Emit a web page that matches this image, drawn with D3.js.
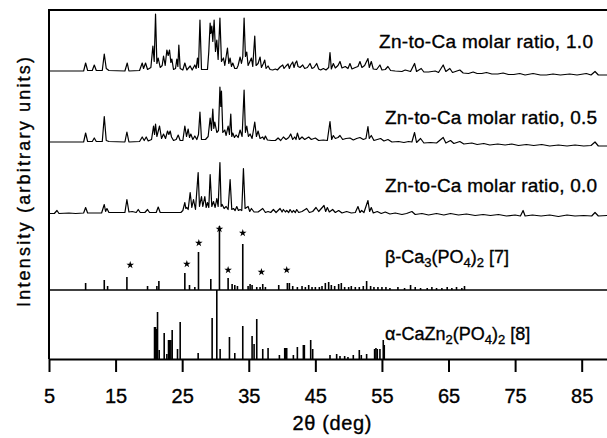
<!DOCTYPE html>
<html>
<head>
<meta charset="utf-8">
<script src="https://cdn.jsdelivr.net/npm/d3@7"></script>
<style>
body { margin: 0; background: #fff; }
text { font-family: "Liberation Sans", Arial, sans-serif; fill: #000; stroke: #000; stroke-width: 0.35px; }
</style>
</head>
<body>
<div id="xrd-chart"></div>
<script>
// x ticks (2theta, deg)
var xTicks = [5, 15, 25, 35, 45, 55, 65, 75, 85];

// stacking offsets of each pattern (intensity units)
var offsetAlpha = 0, offsetBeta = 69, offset00 = 142.5, offset05 = 212.5, offset10 = 283.5;

// measured patterns [2theta, intensity]
var ratio10 = [[5,4.5],[10.2,4.5],[10.5,12.5],[10.8,5],[11.5,5],[11.8,10.5],[12.1,5],[13.0,5],[13.3,21.5],[13.6,7],[14.0,5],[16.4,4.5],[16.75,12.5],[17.0,4.5],[18.6,5],[19.0,12.5],[19.2,7],[19.5,12.5],[19.8,6],[20.3,8],[20.6,29.5],[20.8,14],[21.0,61.5],[21.2,12],[21.4,17.5],[21.7,8],[22.0,10],[22.2,19.5],[22.45,10],[22.7,25.5],[22.9,20],[23.1,25.5],[23.3,13],[23.45,16.5],[23.7,6],[24.0,7],[24.2,16.5],[24.35,9],[24.5,30.5],[24.7,7],[25.1,5.5],[25.4,12.5],[25.7,5.5],[26.2,9.5],[26.5,5.5],[26.9,10.5],[27.1,7],[27.3,17.5],[27.45,8],[27.67,55.5],[27.9,6],[28.8,6],[29.0,24],[29.2,52.5],[29.3,42],[29.45,49.5],[29.6,34],[29.8,55.5],[30.0,24],[30.2,35.5],[30.4,16],[30.67,57.5],[30.9,14],[31.2,17.5],[31.4,10],[31.8,27.5],[32.0,12],[32.2,17.5],[32.4,9],[32.6,12.5],[32.9,7],[33.2,7],[33.4,10],[33.7,18.5],[33.9,12],[34.1,18.5],[34.3,57.5],[34.5,19],[34.7,23.5],[34.9,10],[35.1,13],[35.4,17.5],[35.6,9],[35.9,39.5],[36.1,10],[36.4,12],[36.7,18.5],[36.9,8],[37.2,12],[37.4,15.5],[37.6,7],[37.9,9.5],[38.2,6],[38.6,5.5],[39.0,6.5],[39.3,5.5],[39.7,8.5],[40.1,10.5],[40.3,7],[40.6,9.5],[40.9,11.5],[41.1,7],[41.3,10.5],[41.6,13.5],[41.8,8],[42.0,12.5],[42.2,14.5],[42.4,9],[42.7,8],[43.1,10.5],[43.4,7],[43.8,8],[44.2,12],[44.5,7],[44.8,8],[45.2,12],[45.5,6.5],[45.8,5.5],[46.2,7],[46.6,5.5],[47.0,8],[47.2,23],[47.4,6.5],[47.7,12],[48.0,7.5],[48.4,10],[48.7,14],[49.0,7.5],[49.5,9],[49.9,7],[50.2,12],[50.5,6.5],[51.0,8],[51.4,9],[51.7,14],[52.0,8],[52.4,10],[52.9,17],[53.1,8],[53.4,14],[53.7,6.5],[54.2,6],[54.7,10.5],[55.0,5.5],[55.5,6],[55.9,9],[56.3,5],[57,4.5],[58,4],[58.5,5.5],[59.3,4],[59.9,12],[60.2,4],[60.9,7],[61.3,3.5],[62,3.5],[63,4.5],[63.5,3],[64.2,10.5],[64.6,4],[65.2,7],[65.6,3],[66.7,5.5],[67.2,2.5],[68.0,2],[68.7,3.5],[69.3,2],[70.0,2],[70.7,3],[71.5,1.5],[72.4,1.5],[73.2,2.5],[74.0,1],[74.8,1],[75.7,2],[76.5,0.5],[77.7,2],[78.8,0.5],[79.7,0.5],[80.7,1.5],[81.8,0.5],[83.2,1.5],[84.3,0.5],[85.7,2],[86.4,0.5],[87.0,4],[87.5,0.5],[88.8,0.5]];

var ratio05 = [[5,4.5],[10.2,4.5],[10.5,13.5],[10.8,5],[11.5,5],[11.8,8.5],[12.1,5],[13.0,5],[13.3,30],[13.6,6],[14.0,5],[16.4,4.5],[16.7,14.5],[17.0,4.5],[18.6,5],[19.0,9.5],[19.3,6],[19.6,9.5],[19.9,5.5],[20.4,7],[20.7,20.5],[20.85,12],[21.0,22.5],[21.2,10],[21.6,20.5],[21.9,8],[22.2,12.5],[22.5,8],[22.8,15.5],[23.0,12],[23.2,15.5],[23.4,9.5],[23.7,6],[24.1,7],[24.4,11.5],[24.7,6],[25.1,6],[25.4,20.5],[25.65,10],[25.9,17.5],[26.1,9],[26.3,12.5],[26.6,7],[26.9,10.5],[27.2,7],[27.45,12],[27.67,34.5],[27.9,7],[28.5,7],[28.9,10],[29.2,28.5],[29.4,16],[29.6,37.5],[29.75,18],[29.9,24.5],[30.2,14],[30.45,16],[30.67,59.5],[30.8,40],[30.9,55.5],[31.1,14],[31.4,16.5],[31.6,11],[31.9,20.5],[32.1,12],[32.3,32.5],[32.45,10],[32.6,13.5],[32.85,9],[33.1,11.5],[33.4,9],[33.7,16.5],[34.0,10],[34.3,56.5],[34.5,14],[34.7,20.5],[34.95,10],[35.2,12.5],[35.5,8],[35.9,24.5],[36.15,10],[36.4,15.5],[36.7,8],[37.1,9.5],[37.3,7],[37.5,10.5],[37.8,6.5],[38.4,6],[39.0,6],[39.4,8.5],[39.8,6],[40.2,9.5],[40.6,7],[41.0,9],[41.3,12.5],[41.6,7],[41.9,9.5],[42.1,7],[42.3,13.5],[42.6,7],[43.0,9.5],[43.4,7],[44.0,9.5],[44.4,7],[45.0,8.5],[45.5,6],[46.2,6.5],[46.8,6],[47.2,25],[47.45,7],[47.7,11],[48.0,8],[48.4,9],[48.7,11],[49.1,7],[49.6,8],[50.2,8.5],[50.7,6.5],[51.2,8],[51.7,9],[52.2,7],[52.6,8],[52.9,20],[53.1,8],[53.4,11],[53.8,6],[54.3,7],[54.8,8],[55.3,5.5],[55.9,7],[56.5,4.5],[57.5,5],[58.3,4],[59.0,5],[59.5,4.5],[59.9,14],[60.2,4],[60.8,8],[61.3,3.5],[62.3,4],[63.2,3.5],[64.2,9],[64.6,3.5],[65.3,6],[65.8,3],[66.7,5],[67.3,2.5],[68.5,3.5],[69.3,2],[70.3,3],[71.2,1.5],[72.4,2.5],[73.5,1.5],[74.5,2.5],[75.5,1],[76.7,2],[77.8,1],[79,2],[80.2,0.5],[81.5,1.5],[82.8,0.5],[84.0,1.5],[85.3,0.5],[86.4,1],[87.0,4.5],[87.5,0.5],[88.8,0.5]];

var ratio00 = [[5,3],[5.8,3],[6.2,6],[6.5,3],[8,3.5],[9,3],[10.2,3.5],[10.5,9],[10.8,3.5],[12.9,3.5],[13.3,12],[13.5,5],[13.7,8],[14.0,4],[16.4,4],[16.7,17],[17.0,4.5],[17.5,5],[18.1,4],[18.4,7],[18.7,4],[19.4,4],[19.8,7],[20.1,4],[21.1,4],[21.4,9.5],[21.7,4],[24.8,4],[25.1,6],[25.4,14],[25.55,8],[25.7,9],[25.9,7],[26.2,24],[26.45,9],[26.7,17],[27.0,7],[27.4,44],[27.6,10],[27.9,20],[28.1,10],[28.4,20],[28.6,9],[28.8,14],[29.0,9],[29.2,42],[29.45,10],[29.7,15],[29.95,9],[30.2,18],[30.4,10],[30.67,54],[30.85,10],[31.0,12],[31.3,8],[31.6,10],[31.9,7],[32.2,37],[32.45,7],[32.7,8],[32.95,6],[33.2,10],[33.45,6],[33.7,7],[33.95,6],[34.2,48],[34.45,8],[34.9,10],[35.15,5],[35.4,8],[35.8,4.5],[36.4,4.5],[37.1,8],[37.5,4],[37.9,5],[38.3,4],[38.7,7],[39.1,4],[39.7,8],[40.0,4.5],[40.2,7],[40.5,4.5],[40.7,6],[41.0,4],[41.2,7],[41.5,4],[41.7,6],[42.0,4],[42.2,7],[42.5,4],[43.0,5],[43.7,8],[44.1,4],[44.6,5],[45.1,9],[45.5,5],[46.3,11],[46.55,5],[46.8,9],[47.1,4.5],[47.6,7],[48.0,4],[48.5,6],[49.0,3.5],[49.7,5],[50.4,3.5],[51.0,4],[51.4,10],[51.7,4],[51.95,6],[52.3,4],[52.9,16],[53.15,5],[53.4,9],[53.7,3.5],[54.3,5],[54.9,3],[55.5,4.5],[56.2,2.5],[57.0,3.5],[58.0,2],[58.7,3],[59.5,5],[60.0,2],[61.0,3],[62.0,1.5],[63.2,3],[64.3,1.5],[65.3,3],[66.5,1.5],[67.7,2.5],[69.0,1],[70.2,2],[71.3,1],[72.5,2],[73.7,0.5],[75.0,1.5],[75.8,0.5],[76.2,6],[76.5,0.5],[77.6,1.5],[78.9,0.5],[80.2,1.5],[81.5,0],[82.8,1.5],[84.0,0.5],[85.3,1],[86.5,0.5],[87.0,4],[87.5,0.5],[88.8,1]];

// reference sticks [2theta, intensity]
var betaSticks = [[10.5,7],[13.3,10],[13.8,4],[16.7,13],[19.8,4],[21.2,4],[21.5,9],[25.4,17],[26.1,5],[26.9,3],[27.45,38],[29.3,11],[30.6,64],[31.9,12],[32.5,6],[32.9,5],[33.3,4],[34.1,46],[34.9,4],[35.2,6],[35.5,5],[36.2,3],[36.7,3],[37.1,6],[37.5,3],[39.5,5],[40.8,7],[41.1,7],[41.6,4],[42.3,3],[43.0,4],[43.5,3],[44.0,5],[44.5,3],[45.0,3],[45.6,3],[46.0,4],[46.5,7],[47.0,8],[47.4,5],[47.9,4],[48.5,6],[48.9,7],[49.4,3],[50.0,3],[50.4,4],[51.0,3],[51.6,3],[52.2,4],[52.7,9],[53.3,4],[53.8,3],[54.4,3],[55.0,3],[55.6,3],[56.2,2],[57.4,3],[58.4,2],[59.3,5],[60.0,3],[60.8,2],[61.8,2],[62.5,3],[63.2,2],[64.0,2],[64.8,3],[65.5,2],[66.2,3],[67.0,2],[67.4,4]];
var betaStars = [[17.2,25],[25.7,26],[27.5,47],[30.6,61],[31.9,20],[34.1,57],[36.9,18],[40.7,20]];

var alphaSticks = [[20.85,32],[21.0,32],[21.15,30],[21.3,47],[21.55,9],[22.3,26],[22.7,5],[22.95,19],[23.1,19],[23.3,19],[23.5,29],[24.3,10],[24.7,37],[27.4,6],[29.5,41],[30.2,69],[30.7,10],[32.1,22],[32.9,6],[34.1,33],[35.5,23],[35.8,15],[36.2,40],[37.1,10],[37.9,11],[39.6,4],[40.4,11],[40.55,11],[40.7,11],[41.7,4],[42.3,12],[43.2,14],[43.35,14],[44.3,19],[44.6,10],[47.2,4],[48.2,5],[48.7,3],[49.4,3],[49.9,2],[50.7,4],[51.6,9],[51.9,4],[52.7,5],[53.9,10],[54.1,11],[54.3,10],[54.7,10],[55.2,19],[55.35,14]];

var sampleLabels = ["Zn-to-Ca molar ratio, 1.0", "Zn-to-Ca molar ratio, 0.5", "Zn-to-Ca molar ratio, 0.0"];

var width = 607, height = 438;

var svg = d3.select("#xrd-chart")
    .append("svg")
    .attr("width", width)
    .attr("height", height);

var x = d3.scaleLinear()
    .domain([5, 88.8])
    .range([49, 607]);

var y = d3.scaleLinear()
    .domain([0, 349])
    .range([359, 10]);

// frame: top and left
svg.append("line")
    .attr("x1", x(5)).attr("x2", width)
    .attr("y1", y(349)).attr("y2", y(349))
    .attr("stroke", "#000").attr("stroke-width", 2);
svg.append("line")
    .attr("x1", x(5)).attr("x2", x(5))
    .attr("y1", y(349) - 1).attr("y2", y(0))
    .attr("stroke", "#000").attr("stroke-width", 2);

// x-Achse
var xAxis = svg.append("g")
    .attr("transform", "translate(0," + y(0) + ")")
    .call(d3.axisBottom(x).tickValues(xTicks).tickSize(13).tickSizeOuter(0).tickFormat(d3.format("d")));
xAxis.select(".domain").attr("stroke-width", 2);
xAxis.selectAll(".tick line").attr("stroke-width", 2);
xAxis.selectAll(".tick text")
    .attr("y", 44).attr("dy", 0)
    .attr("font-size", 20)
    .attr("font-family", "Liberation Sans, Arial, sans-serif")
    .attr("fill", "#000")
    .attr("stroke", "#000")
    .attr("stroke-width", 0.6);

svg.append("text")
    .attr("x", 332).attr("y", 430)
    .attr("text-anchor", "middle")
    .attr("font-size", 20)
    .attr("textLength", 79)
    .text("2θ (deg)");

svg.append("text")
    .attr("transform", "rotate(-90)")
    .attr("x", -182).attr("y", 29.5)
    .attr("text-anchor", "middle")
    .attr("font-size", 18)
    .attr("textLength", 250)
    .text("Intensity (arbitrary units)");

// gemessene Diffraktogramme
function drawPattern(data, offset) {
    var line = d3.line()
        .x(function (d) { return x(d[0]); })
        .y(function (d) { return y(offset + d[1]); });
    svg.append("path")
        .datum(data)
        .attr("d", line)
        .attr("fill", "none")
        .attr("stroke", "#000")
        .attr("stroke-width", 1.2)
        .attr("stroke-linejoin", "round");
}
drawPattern(ratio10, offset10);
drawPattern(ratio05, offset05);
drawPattern(ratio00, offset00);

// Referenz-Linien
function drawSticks(data, offset) {
    svg.append("g")
        .selectAll("line")
        .data(data)
        .enter()
        .append("line")
        .attr("x1", function (d) { return x(d[0]); })
        .attr("x2", function (d) { return x(d[0]); })
        .attr("y1", y(offset))
        .attr("y2", function (d) { return y(offset + d[1]); })
        .attr("stroke", "#000")
        .attr("stroke-width", 1.6);
}
// beta baseline
svg.append("line")
    .attr("x1", x(5)).attr("x2", x(88.8))
    .attr("y1", y(offsetBeta)).attr("y2", y(offsetBeta))
    .attr("stroke", "#000").attr("stroke-width", 1.5);
drawSticks(betaSticks, offsetBeta);
drawSticks(alphaSticks, offsetAlpha);

svg.append("g")
    .selectAll("path")
    .data(betaStars)
    .enter()
    .append("path")
    .attr("d", d3.symbol(d3.symbolStar).size(18))
    .attr("transform", function (d) { return "translate(" + x(d[0]) + "," + y(offsetBeta + d[1]) + ")"; })
    .attr("fill", "#000");

// Beschriftungen
var labelPos = [[379, 48, 214], [385, 124, 212], [385, 191.5, 212]];
sampleLabels.forEach(function (t, i) {
    svg.append("text")
        .attr("x", labelPos[i][0]).attr("y", labelPos[i][1])
        .attr("font-size", 19)
        .attr("textLength", labelPos[i][2])
        .text(t);
});

function formulaLabel(parts, xPos, yPos) {
    var t = svg.append("text")
        .attr("x", xPos).attr("y", yPos)
        .attr("font-size", 18);
    var shift = 0;
    parts.forEach(function (p) {
        var sub = p[1];
        var dy = sub ? 4 - shift : -shift;
        shift = sub ? 4 : 0;
        t.append("tspan")
            .attr("dy", dy)
            .attr("font-size", sub ? 13 : 18)
            .text(p[0]);
    });
}
formulaLabel([["β-Ca", 0], ["3", 1], ["(PO", 0], ["4", 1], [")", 0], ["2", 1], [" [7]", 0]], 385, 263);
formulaLabel([["α-CaZn", 0], ["2", 1], ["(PO", 0], ["4", 1], [")", 0], ["2", 1], [" [8]", 0]], 385, 340);
</script>
</body>
</html>
